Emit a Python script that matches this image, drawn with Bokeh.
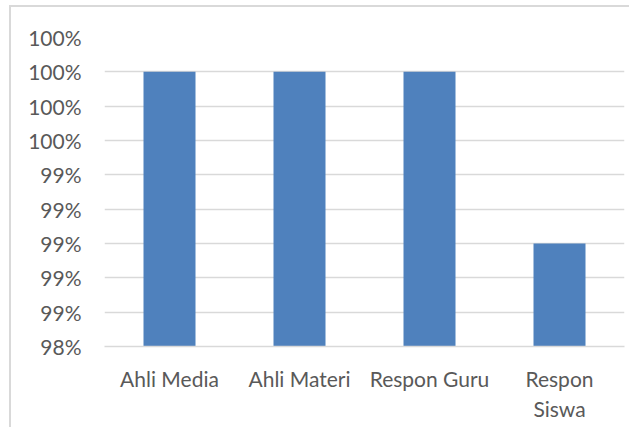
from bokeh.plotting import figure
from bokeh.models import FactorRange, Range1d, FixedTicker, NumeralTickFormatter
from bokeh.embed import file_html
from bokeh.resources import INLINE

categories = ["Ahli Media", "Ahli Materi", "Respon Guru", "Respon\nSiswa"]
values = [1.0, 1.0, 1.0, 0.99]
y_ticks = [0.984, 0.986, 0.988, 0.990, 0.992, 0.994, 0.996, 0.998, 1.000, 1.002]
y_min, y_max = 0.984, 1.002

p = figure(x_range=FactorRange(*categories, range_padding=0),
           y_range=Range1d(y_min, y_max),
           width=620, height=422, output_backend="svg", toolbar_location=None,
           min_border_left=93, min_border_right=7, min_border_top=30, min_border_bottom=83)
p.margin = (5, 0, 0, 9)
p.styles = {"border-left": "2px solid #d9d9d9", "border-top": "2px solid #d9d9d9"}
p.outline_line_color = None
p.background_fill_color = "white"
p.border_fill_color = "white"

p.vbar(x=categories, top=values, bottom=y_min, width=0.4, color="#4f81bd", line_color=None)

p.yaxis.ticker = FixedTicker(ticks=y_ticks)
p.yaxis.formatter = NumeralTickFormatter(format="0%")
p.ygrid.ticker = FixedTicker(ticks=y_ticks)
p.ygrid.grid_line_color = "#d9d9d9"
p.ygrid.grid_line_width = 1.5
p.xgrid.grid_line_color = None

for ax in (p.xaxis, p.yaxis):
    ax.axis_line_color = None
    ax.major_tick_line_color = None
    ax.minor_tick_line_color = None
    ax.major_label_text_font = "Lato"
    ax.major_label_text_font_size = "21px"
    ax.major_label_text_color = "#595959"

p.yaxis.major_label_standoff = 17
p.xaxis.major_label_standoff = 13
p.xaxis.axis_line_color = "#d9d9d9"
p.xaxis.axis_line_width = 1.5

open("out.html", "w").write(file_html(p, INLINE))
